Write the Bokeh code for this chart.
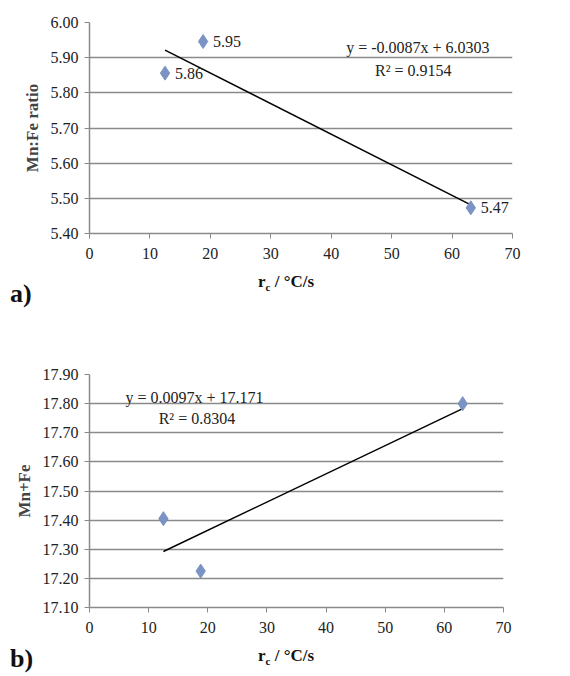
from bokeh.plotting import figure
from bokeh.layouts import column
from bokeh.models import Label, FixedTicker, Range1d, NumeralTickFormatter, Div
from bokeh.embed import file_html
from bokeh.resources import INLINE

rate = [12.5, 18.8, 63.1]
ratio = [5.856, 5.946, 5.473]
ratio_labels = ["5.86", "5.95", "5.47"]
mnfe = [17.405, 17.225, 17.80]

fit_a = (-0.0087, 6.0303)
fit_b = (0.0097, 17.171)

SERIF = "Liberation Serif"
MARK = "#7b93c4"
GRID = "#8a8a8a"
TXT = "#222222"


def panel(h, top, left, fw, fh, y0, y1, ylabel):
    bottom = h - top - fh
    p = figure(width=554, height=h, frame_width=fw, frame_height=fh,
               min_border_top=top, min_border_left=left, min_border_right=554 - left - fw,
               min_border_bottom=bottom,
               x_range=Range1d(0, 70), y_range=Range1d(y0, y1),
               output_backend="svg", toolbar_location=None, tools="")
    p.outline_line_color = None
    p.xgrid.grid_line_color = None
    p.ygrid.grid_line_color = GRID
    p.ygrid.grid_line_width = 1.5
    p.xaxis.ticker = FixedTicker(ticks=list(range(0, 71, 10)))
    p.yaxis.ticker = FixedTicker(ticks=[round(y0 + 0.1 * i, 2) for i in range(int(round((y1 - y0) / 0.1)) + 1)])
    p.yaxis.formatter = NumeralTickFormatter(format="0.00")
    for ax in (p.xaxis, p.yaxis):
        ax.axis_line_color = GRID
        ax.axis_line_width = 1.5
        ax.major_tick_line_color = GRID
        ax.major_tick_in = 0
        ax.major_tick_out = 5
        ax.minor_tick_line_color = None
        ax.major_label_text_font = "Liberation Serif, serif"
        ax.major_label_text_font_size = "16px"
        ax.major_label_text_color = TXT
    p.xaxis.major_label_standoff = 9
    p.yaxis.major_label_standoff = 6
    p.yaxis.axis_label = ylabel
    p.yaxis.axis_label_text_font = SERIF
    p.yaxis.axis_label_text_font_style = "bold"
    p.yaxis.axis_label_text_font_size = "17px"
    p.yaxis.axis_label_standoff = 6
    return p


def caption(tag, h, tag_top, xl_top):
    html = (f'<div style="position:relative;width:554px;height:{h}px;font-family:\'{SERIF}\';'
            f'font-weight:bold;color:#111">'
            f'<span style="position:absolute;left:10px;top:{tag_top}px;font-size:26px">{tag}</span>'
            f'<span style="position:absolute;left:258px;top:{xl_top}px;font-size:17px">'
            f'r<sub style="font-size:11px">c</sub> / °C/s</span></div>')
    return Div(text=html, width=554, height=h, margin=0)


pa = panel(267, 22, 82, 423, 211, 5.40, 6.00, "Mn:Fe ratio")
xs = [min(rate), max(rate)]
pa.line(xs, [fit_a[0] * x + fit_a[1] for x in xs], line_color="black", line_width=1.5)
pa.scatter(rate, ratio, marker="diamond", size=14, fill_color=MARK, line_color=MARK)
for x, y, t in zip(rate, ratio, ratio_labels):
    pa.add_layout(Label(x=x, y=y, text=t, x_offset=10, text_baseline="middle", text_font=SERIF,
                        text_font_size="16px", text_color=TXT))
pa.add_layout(Label(x=66.2, y=5.929, text="y = -0.0087x + 6.0303", text_align="right",
                    text_baseline="middle", text_font=SERIF, text_font_size="16px", text_color=TXT))
pa.add_layout(Label(x=59.9, y=5.864, text="R² = 0.9154", text_align="right",
                    text_baseline="middle", text_font=SERIF, text_font_size="16px", text_color=TXT))

pb = panel(333, 67, 89, 414, 233, 17.10, 17.90, "Mn+Fe")
pb.line(xs, [fit_b[0] * x + fit_b[1] for x in xs], line_color="black", line_width=1.5)
pb.scatter(rate, mnfe, marker="diamond", size=14, fill_color=MARK, line_color=MARK)
pb.add_layout(Label(x=6.1, y=17.821, text="y = 0.0097x + 17.171", text_baseline="middle",
                    text_font=SERIF, text_font_size="16px", text_color=TXT))
pb.add_layout(Label(x=11.7, y=17.749, text="R² = 0.8304", text_baseline="middle",
                    text_font=SERIF, text_font_size="16px", text_color=TXT))

layout = column(pa, caption("a)", 40, 8, 3), pb, caption("b)", 28, 0, 4), spacing=0)
open("out.html", "w").write(file_html(layout, INLINE))
